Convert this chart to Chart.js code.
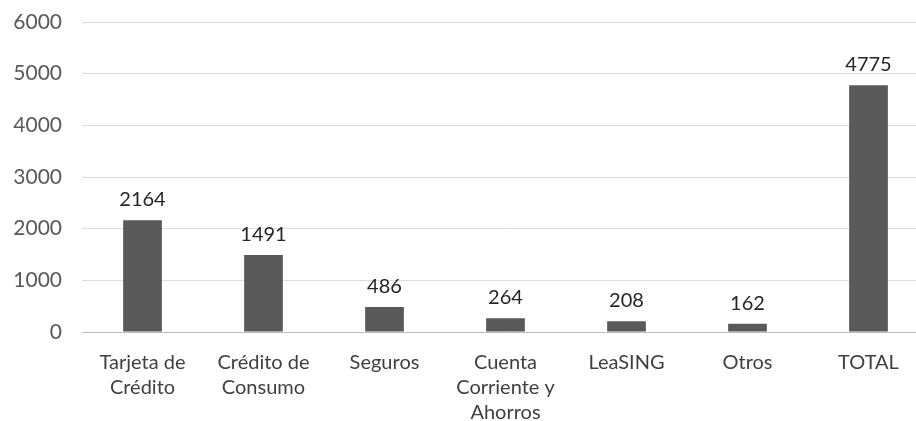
<!DOCTYPE html>
<html>
<head>
<meta charset="utf-8">
<script src="https://cdn.jsdelivr.net/npm/chart.js@4"></script>
<style>
    html, body { margin: 0; padding: 0; background: #fff; }
    #wrap { width: 916px; height: 421px; overflow: hidden; }
</style>
</head>
<body>
<div id="wrap"><canvas id="productos" width="935" height="421"></canvas></div>
<script>
const categories = [
    ['Tarjeta de', 'Crédito'],
    ['Crédito de', 'Consumo'],
    'Seguros',
    ['Cuenta', 'Corriente y', 'Ahorros'],
    'LeaSING',
    'Otros',
    'TOTAL'
];
const values = [2164, 1491, 486, 264, 208, 162, 4775];
const yTicks = [0, 1000, 2000, 3000, 4000, 5000, 6000];

const FONT = 'Lato, "Open Sans", sans-serif';

// numbers printed over each bar
const valueLabels = {
    id: 'valueLabels',
    afterDatasetsDraw(chart) {
        const ctx = chart.ctx;
        const meta = chart.getDatasetMeta(0);
        ctx.save();
        ctx.font = '20px ' + FONT;
        ctx.fillStyle = '#262626';
        ctx.textAlign = 'center';
        ctx.textBaseline = 'alphabetic';
        meta.data.forEach((bar, i) => {
            ctx.fillText(String(values[i]), bar.x, bar.y - 14);
        });
        ctx.restore();
    }
};

const ctx = document.getElementById('productos');

new Chart(ctx, {
    type: 'bar',
    data: {
        labels: categories,
        datasets: [{
            data: values,
            backgroundColor: '#595959',
            barPercentage: 0.32,
            categoryPercentage: 1
        }]
    },
    options: {
        responsive: false,
        animation: false,
        layout: {
            padding: { top: 22, right: 6, left: 0, bottom: 0 }
        },
        plugins: {
            legend: { display: false },
            tooltip: { enabled: false }
        },
        scales: {
            x: {
                grid: { display: false },
                border: { display: false },
                ticks: {
                    color: '#3f3f3f',
                    font: { family: FONT, size: 20, lineHeight: 1.25 },
                    padding: 10,
                    maxRotation: 0,
                    autoSkip: false
                },
                afterFit(scale) { scale.height = 89; }
            },
            y: {
                min: 0,
                max: 6000,
                afterBuildTicks(scale) {
                    scale.ticks = yTicks.map(v => ({ value: v }));
                },
                grid: {
                    color: c => c.tick && c.tick.value === 0 ? '#bdbdbd' : '#dcdcdc',
                    lineWidth: 1,
                    drawTicks: false
                },
                border: { display: false },
                ticks: {
                    color: '#595959',
                    font: { family: FONT, size: 21 },
                    padding: 20,
                    callback: v => String(v)
                },
                afterFit(scale) {
                    scale.width = 82;
                    // tick padding shouldn't push the plot down
                    scale.paddingTop = 0;
                    scale.paddingBottom = 0;
                }
            }
        }
    },
    plugins: [valueLabels]
});
</script>
</body>
</html>
